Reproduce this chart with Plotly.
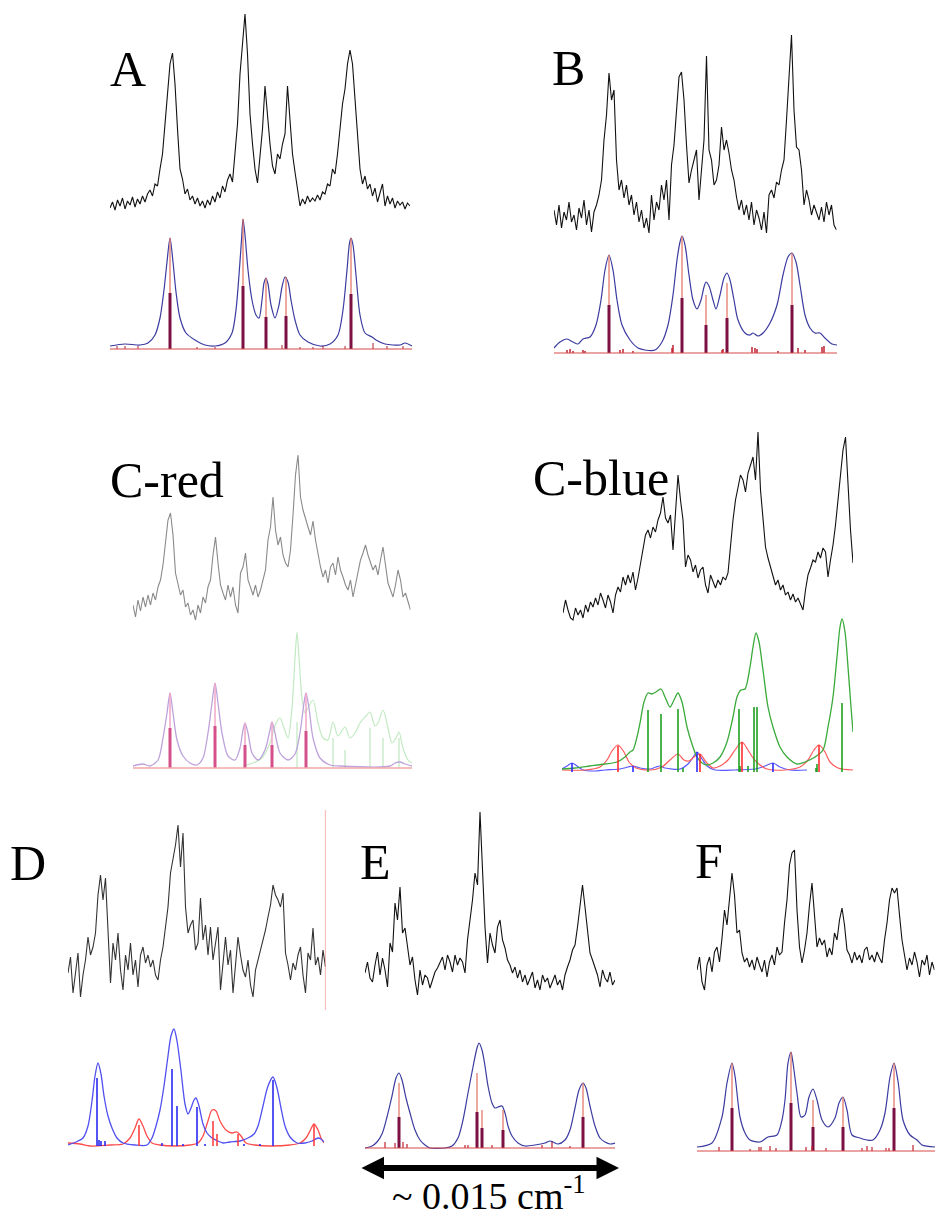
import plotly.graph_objects as go

W, H = 935, 1218

# ---------------- experimental traces (intensity, arb. units, uniform sampling) ----------------
a_exp = [6,12,4,14,8,16,5,13,9,17,7,15,10,18,12,20,
         24,18,30,28,45,60,90,120,150,161,130,85,45,35,20,25,14,18,10,16,8,13,6,14,
         9,18,12,22,16,28,22,34,40,32,60,90,140,175,200,160,100,70,45,31,
         55,85,128,95,70,48,40,60,55,70,80,128,95,60,42,25,8,15,10,18,
         12,16,13,19,14,22,20,30,28,45,40,60,85,110,125,150,164,150,115,75,
         45,30,38,25,30,18,26,12,22,30,8,18,10,16,6,13,9,12,5,11,8]
b_exp = [30,15,35,12,28,20,38,18,25,10,32,22,40,15,30,8,28,35,
         45,60,100,125,167,140,150,80,50,60,42,55,35,45,25,38,18,30,12,22,
         7,45,20,38,30,55,40,60,20,75,95,130,163,168,140,95,57,70,80,90,
         40,70,100,184,90,80,55,60,75,113,90,100,87,70,60,43,30,40,25,35,
         20,38,15,30,22,10,28,7,45,50,42,58,55,70,80,120,160,205,130,93,
         90,70,35,50,40,25,35,28,20,33,18,38,25,35,15,10]
cr_exp = [20,8,25,14,28,18,30,20,32,25,38,45,60,85,105,112,90,52,40,30,
          35,18,22,10,15,5,20,12,28,22,38,45,70,88,62,40,32,25,40,28,
          38,20,12,52,58,72,45,38,30,40,28,35,45,55,85,98,128,95,80,88,
          70,62,58,75,110,150,170,128,115,105,98,90,104,85,70,58,48,55,42,58,
          62,50,68,55,48,40,35,45,28,40,52,65,72,80,70,62,55,60,50,65,
          78,60,42,35,28,40,55,45,28,32,22,15]
cb_exp = [17,30,20,12,10,22,15,20,12,25,18,28,23,32,25,37,30,22,35,28,
          17,35,43,38,53,45,55,47,58,40,52,67,82,95,100,92,103,98,110,117,
          133,112,107,115,80,123,155,130,110,63,75,70,58,65,52,60,63,45,37,55,
          48,42,50,45,53,50,57,85,110,130,143,155,150,138,157,165,173,150,198,140,
          110,83,72,62,55,45,50,40,45,35,38,30,36,28,32,25,20,40,55,62,
          70,68,78,72,82,78,53,70,85,105,130,160,180,193,140,100,67]
d_exp = [32,48,12,35,52,8,30,45,68,50,58,72,110,130,105,127,78,22,62,45,
         72,35,15,50,35,62,30,45,18,50,58,42,50,38,45,30,25,45,58,80,
         98,132,145,160,180,138,172,98,72,80,85,55,62,107,65,80,50,78,45,60,
         78,15,45,68,40,55,12,40,68,50,35,28,45,20,8,35,45,55,62,75,
         88,100,120,110,105,98,112,52,40,25,42,35,50,58,30,12,52,45,77,40,
         48,30,55,38]
d_cursor = [-5, 195]
e_exp = [27,38,22,18,35,48,25,42,30,13,57,48,97,80,113,67,72,53,35,43,
         20,5,30,15,25,22,12,20,28,32,38,43,30,45,38,28,45,35,42,38,
         27,60,80,100,127,115,188,133,73,37,67,55,47,73,80,60,52,40,35,27,
         33,22,30,18,25,15,22,28,12,20,10,25,18,22,12,18,25,15,20,10,
         25,33,40,50,55,73,97,115,93,70,47,40,32,25,13,30,22,18,28,15,20]
f_exp = [30,43,18,10,35,43,28,48,53,38,62,90,75,100,127,105,67,70,47,38,
         42,33,40,30,43,35,28,40,23,38,45,35,53,45,48,77,100,135,147,150,
         90,53,37,50,67,95,117,85,53,62,55,60,43,52,45,67,60,80,92,75,
         50,45,37,48,40,45,37,50,53,40,45,38,48,42,37,60,77,100,112,107,
         112,85,60,45,30,42,35,48,38,23,40,35,45,25,38,30]

# ---------------- simulated spectra (frequency offset, intensity) ----------------
a_env_x = [0,15,30,38,45,50,54,57,60,63,66,70,76,85,95,105,115,122,126,129,131.5,133,135,138,142,146,149,152,154,156,158,161,165,169,172,175,178,181,185,190,198,210,220,228,233,237,239.5,241,243,246,250,255,262,266,275,290,295,302]
a_env_y = [3,5,4,6,14,31,59,87,111,87,57,31,16,9,4,3,6,16,39,74,109,130,114,79,49,34,31,49,66,71,65,44,31,44,62,72,67,49,29,14,7,3,5,14,39,79,106,111,104,74,34,16,12,9,5,4,6,3]
a_stick_x = [60,133,156,176,241]
a_stick_top = [111,130,71,72,111]
a_stick_core = [56,63,32,33,55]
a_small_x = [7,15,28,87,105,172,190,203,213,235,263,277,293]
a_small_h = [3,3,3,2,2,4,2,2,3,3,6,3,3]

b_env_x = [0,6,13,19,24,29,36,42,47,51,55,59,63,68,76,84,91,101,108,114,119,123,126,128,131,135,139,143,147,150,152,155,159,162,166,170,173,176,180,184,191,196,199,204,209,216,223,229,234,238,242,246,251,256,261,266,271,278,283]
b_env_y = [5,11,14,11,9,14,16,28,53,83,98,83,53,28,13,5,3,3,11,28,58,93,111,117,108,78,53,44,53,66,71,67,53,44,58,75,80,73,53,33,20,18,20,17,20,30,48,78,96,100,91,68,38,25,20,20,15,9,8]
b_stick_x = [55,128,152,173,238]
b_stick_top = [98,117,58,70,100]
b_stick_core = [48,55,28,35,48]
b_small_x = [13,16,19,29,31,66,69,79,118,119,168,169,198,201,203,224,244,251,268,270]
b_small_h = [3,4,2,3,2,3,4,2,5,8,3,4,6,5,4,2,5,3,6,7]

cr_env_x = [0,10,17,25,30,34,37,40,44,50,57,64,70,75,79,82,85,89,95,102,107,110,112,115,119,125,132,137,139,142,147,155,162,167,171,173,176,180,187,197,207,257,262,267,272,279]
cr_env_y = [2,4,2,8,30,55,75,55,28,12,5,3,10,35,65,85,65,35,12,8,20,38,45,35,15,8,18,38,46,35,15,8,14,35,65,75,60,30,10,3,2,2,5,6,4,2]
cr_green_x = [110,120,129,137,143,147,151,155,159,162,164,166,169,172,175,180,185,190,195,200,205,212,217,222,227,233,237,242,245,250,255,259,263,266,270,275,279]
cr_green_y = [2,5,10,25,45,50,40,30,60,110,136,110,70,55,60,68,45,30,28,46,32,41,30,35,45,52,56,42,45,58,40,25,30,36,20,8,5]
cr_stick_x = [37,82,112,139,173]
cr_stick_top = [75,85,45,46,75]
cr_stick_core = [40,42,23,23,37]
cr_gstick_x = [164,200,212,237,250,266]
cr_gstick_h = [46,30,18,40,30,30]

cb_green_x = [0,13,28,43,55,63,68,71,75,78,82,86,90,94,99,103,108,112,116,120,125,130,135,140,145,151,158,165,171,175,179,183,188,191,194,197,201,206,211,218,225,235,243,253,261,266,271,275,278,280,283,286,289,291]
cb_green_y = [3,4,6,8,10,15,20,22,35,49,70,79,78,80,83,75,65,72,79,70,45,28,15,9,7,9,15,30,55,75,82,83,105,125,139,130,102,65,45,25,15,8,10,15,22,45,75,115,145,153,140,105,65,40]
cb_red_x = [0,23,38,45,50,56,62,67,74,88,100,108,116,122,127,132,138,144,151,158,166,173,180,186,191,198,205,223,238,246,252,257,263,268,276,291]
cb_red_y = [2,2,5,12,21,27,20,10,4,2,5,12,18,12,11,15,18,10,4,6,12,22,30,22,14,7,3,2,5,12,22,27,20,10,4,2]
cb_blue_x = [0,5,10,15,21,33,43,58,66,71,78,88,94,98,103,118,126,130,135,140,145,153,173,193,203,211,218,228,245]
cb_blue_y = [3,6,9,6,2,1,2,3,5,6,4,3,5,6,4,3,8,13,20,13,6,2,2,3,6,9,5,2,2]
cb_gstick_x = [86,99,116,177,192,195,280,121,178,186,254,255]
cb_gstick_h = [62,58,63,63,65,65,69,4,6,6,4,8]
cb_rstick_x = [56,138,180,257]
cb_rstick_h = [26,18,30,27]
cb_bstick_x = [10,71,135,211]
cb_bstick_h = [9,6,20,9]

d_blue_x = [0,8,15,20,24,27,30,33,36,40,44,49,55,67,79,84,88,92,96,100,103,106,109,113,117,120,123,126,128,131,135,139,144,150,155,162,172,180,186,190,195,200,205,209,213,217,222,229,237,244,250,253,256]
d_blue_y = [1,4,8,20,45,70,83,72,50,30,18,8,3,1,1,8,20,36,60,90,110,117,105,75,42,32,38,46,48,40,22,13,8,5,3,4,5,8,12,20,40,60,69,58,38,20,9,3,3,5,8,7,4]
d_red_x = [0,12,22,42,55,62,67,71,75,79,84,92,107,122,130,135,140,144,148,152,158,164,169,173,178,187,202,222,232,238,242,246,250,253,256]
d_red_y = [3,2,0,1,2,8,18,27,20,10,3,1,0,1,3,10,25,36,35,25,16,13,14,10,3,1,0,1,3,8,15,22,16,8,3]
d_bstick_x = [29,104,109,129,205,31,33,37,94,115,137,176,192]
d_bstick_h = [68,77,40,39,66,6,5,5,3,2,2,2,2]
d_rstick_x = [71,145,149,170,246]
d_rstick_h = [21,25,12,12,21]

e_env_x = [0,7,12,17,22,27,31,34,37,41,45,50,55,60,65,80,87,93,98,103,108,112,114,117,120,123,127,130,133,137,140,143,147,153,160,170,180,185,188,193,200,205,210,214,218,221,225,230,235,240,245,250]
e_env_y = [0,2,6,14,31,52,70,75,68,50,35,18,8,3,0,0,2,10,28,55,81,100,105,98,82,62,45,40,41,42,35,22,12,5,2,3,5,7,6,4,8,18,40,58,65,60,42,22,10,6,4,5]
e_stick_x = [34,112,117,138,218]
e_stick_top = [65,75,38,38,65]
e_stick_core = [31,36,20,18,31]
e_small_x = [20,30,38,42,100,103,127,177,187,205]
e_small_h = [6,5,6,4,3,3,3,3,6,2]

f_env_x = [0,15,25,30,35,38,43,48,53,63,71,80,85,88,91,94,96,100,104,108,112,116,120,125,131,138,142,146,150,155,163,170,176,183,188,193,197,201,206,213,220,225,238]
f_env_y = [4,8,34,68,88,75,34,18,11,9,14,16,31,51,88,99,88,58,34,36,54,62,51,31,24,33,48,54,41,16,13,11,11,21,38,74,88,70,31,16,11,6,4]
f_stick_x = [35,94,116,146,197]
f_stick_top = [88,99,51,54,88]
f_stick_core = [43,48,24,24,43]
f_small_x = [22,53,62,64,73,79,109,115,129,165,170,175,189,192,216]
f_small_h = [4,2,4,4,5,3,4,5,3,3,5,4,3,3,6]

labels = ["A", "B", "C-red", "C-blue", "D", "E", "F"]
scale_text = "~ 0.015 cm<sup>-1</sup>"

# ---------------- figure helpers ----------------
fig = go.Figure()
axis_count = [0]
STEP = 2.5  # px per experimental sample


def new_axes(left, right, top, bottom, xr, yr):
    axis_count[0] += 1
    k = axis_count[0]
    sfx = "" if k == 1 else str(k)
    fig.layout["xaxis" + sfx] = dict(domain=[left / W, right / W], range=xr, visible=False,
                                     anchor="y" + sfx, fixedrange=True)
    fig.layout["yaxis" + sfx] = dict(domain=[1 - bottom / H, 1 - top / H], range=yr, visible=False,
                                     anchor="x" + sfx, fixedrange=True)
    return "x" + sfx, "y" + sfx


def line(ax, x, y, color, width, shape="linear", opacity=1.0):
    fig.add_trace(go.Scatter(x=x, y=y, xaxis=ax[0], yaxis=ax[1], mode="lines",
                             line=dict(color=color, width=width, shape=shape, smoothing=0.8),
                             opacity=opacity, hoverinfo="skip", showlegend=False))


def sticks(ax, xs, hs, color, width, opacity=1.0):
    xx, yy = [], []
    for x, h in zip(xs, hs):
        xx += [x, x, None]
        yy += [0, h, None]
    line(ax, xx, yy, color, width, opacity=opacity)


def exp_panel(values, left, bottom, height, color="#111111", width=1.1, yr=None):
    n = len(values)
    right = left + STEP * (n - 1)
    lo = -4 if yr is None else yr[0]
    hi = height if yr is None else yr[1]
    ax = new_axes(left, right, bottom - hi, bottom - lo, [0, n - 1], [lo, hi])
    line(ax, list(range(n)), values, color, width)
    return ax


def sim_axes(left, width, baseline, height):
    return new_axes(left, left + width, baseline - height, baseline + 4, [0, width], [-4, height])


BLUE = "#3b3ba0"
THIN = "#e2705e"
CORE = "#7d1042"
BASE = "#d84a4a"

# ---------------- A ----------------
exp_panel(a_exp, 110, 214, 210)
ax = sim_axes(110, 302, 349, 140)
line(ax, a_env_x, a_env_y, BLUE, 1.2, "spline")
sticks(ax, a_stick_x, a_stick_top, THIN, 1.2)
sticks(ax, a_stick_x, a_stick_core, CORE, 3)
sticks(ax, a_small_x, a_small_h, "#b02030", 1)
line(ax, [0, 302], [0, 0], BASE, 1.2)

# ---------------- B ----------------
exp_panel(b_exp, 554, 240, 235)
ax = sim_axes(554, 283, 353, 125)
line(ax, b_env_x, b_env_y, BLUE, 1.2, "spline")
sticks(ax, b_stick_x, b_stick_top, THIN, 1.2)
sticks(ax, b_stick_x, b_stick_core, CORE, 3)
sticks(ax, b_small_x, b_small_h, "#c02030", 1.5)
line(ax, [0, 283], [0, 0], BASE, 1.2)

# ---------------- C-red ----------------
exp_panel(cr_exp, 133, 625, 180, color="#8a8a8a", width=1.1)
ax = sim_axes(133, 279, 768, 150)
line(ax, cr_green_x, cr_green_y, "#c2eac2", 1.2, "spline")
sticks(ax, cr_gstick_x, cr_gstick_h, "#bfe8bf", 1.2)
line(ax, cr_env_x, cr_env_y, "#bea2dc", 1.3, "spline")
sticks(ax, cr_stick_x, cr_stick_top, "#f2a6c8", 1.5)
sticks(ax, cr_stick_x, cr_stick_core, "#d4508a", 3)
line(ax, [0, 279], [0, 0], "#f0a8a8", 1.5)

# ---------------- C-blue ----------------
exp_panel(cb_exp, 563, 630, 205)
ax = sim_axes(562, 291, 772, 160)
line(ax, cb_blue_x, cb_blue_y, "#5a5aff", 1.2, "spline")
line(ax, cb_red_x, cb_red_y, "#ff5a5a", 1.2, "spline")
line(ax, cb_green_x, cb_green_y, "#3aaa3a", 1.3, "spline")
sticks(ax, cb_gstick_x, cb_gstick_h, "#129a12", 1.5)
sticks(ax, cb_rstick_x, cb_rstick_h, "#ff2020", 1.5)
sticks(ax, cb_bstick_x, cb_bstick_h, "#2020ff", 1.5)

# ---------------- D ----------------
ax = exp_panel(d_exp, 68, 1005, 195, color="#333333", yr=[-10, 195])
line(ax, [len(d_exp) - 1, len(d_exp) - 1], d_cursor, "#f08080", 1.2)
ax = sim_axes(68, 256, 1146, 125)
line(ax, d_red_x, d_red_y, "#ff4a4a", 1.3, "spline")
line(ax, d_blue_x, d_blue_y, "#5050f0", 1.3, "spline")
sticks(ax, d_bstick_x, d_bstick_h, "#2a2af0", 1.6)
sticks(ax, d_rstick_x, d_rstick_h, "#ff4040", 1.6)

# ---------------- E ----------------
exp_panel(e_exp, 365, 1000, 195)
ax = sim_axes(365, 250, 1148, 110)
line(ax, e_env_x, e_env_y, BLUE, 1.2, "spline")
sticks(ax, e_stick_x, e_stick_top, THIN, 1.2)
sticks(ax, e_stick_x, e_stick_core, CORE, 3)
sticks(ax, e_small_x, e_small_h, "#c02030", 1.2)
line(ax, [0, 250], [0, 0], BASE, 1.2)

# ---------------- F ----------------
exp_panel(f_exp, 697, 1000, 160)
ax = sim_axes(697, 238, 1151, 105)
line(ax, f_env_x, f_env_y, BLUE, 1.2, "spline")
sticks(ax, f_stick_x, f_stick_top, THIN, 1.2)
sticks(ax, f_stick_x, f_stick_core, CORE, 3)
sticks(ax, f_small_x, f_small_h, "#c02030", 1.2)
line(ax, [0, 238], [0, 0], BASE, 1.2)

# ---------------- labels ----------------
label_pos = [(108, 69), (550, 68), (108, 480), (531, 478), (8, 863), (358, 862), (693, 861)]
SERIF = "Liberation Serif, Times New Roman, serif"
ann = []
for text, (px, py) in zip(labels, label_pos):
    ann.append(dict(text=text, x=px / W, y=1 - py / H, xref="paper", yref="paper",
                    xanchor="left", yanchor="middle", showarrow=False,
                    font=dict(family=SERIF, size=50, color="#000000")))

# double-headed scale arrow
ann.append(dict(text="", x=619 / W, y=1 - 1168 / H, xref="paper", yref="paper",
                ax=-259, ay=0, axref="pixel", ayref="pixel", showarrow=True,
                arrowside="end+start", arrowhead=2, startarrowhead=2,
                arrowwidth=6, arrowsize=0.75, startarrowsize=0.75, arrowcolor="#000000",
                standoff=0, startstandoff=0))
ann.append(dict(text=scale_text, x=489 / W, y=0, xref="paper", yref="paper",
                xanchor="center", yanchor="bottom", showarrow=False, borderpad=0,
                font=dict(family=SERIF, size=38, color="#000000")))

fig.update_layout(width=W, height=H, margin=dict(l=0, r=0, t=0, b=0),
                  paper_bgcolor="white", plot_bgcolor="rgba(0,0,0,0)",
                  showlegend=False, annotations=ann)

fig.write_html("out.html")
